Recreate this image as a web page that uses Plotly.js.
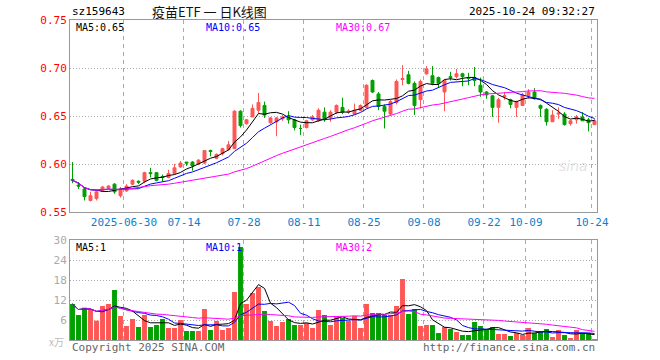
<!DOCTYPE html>
<html><head><meta charset="utf-8">
<script src="https://cdn.plot.ly/plotly-3.0.1.min.js"></script>
<style>html,body{margin:0;padding:0;background:#fff}#c{width:660px;height:360px}</style>
</head><body><div id="c"></div>
<script>
const dates = [
"2025-06-17","2025-06-18","2025-06-19","2025-06-20","2025-06-23","2025-06-24","2025-06-25","2025-06-26","2025-06-27","2025-06-30",
"2025-07-01","2025-07-02","2025-07-03","2025-07-04","2025-07-07","2025-07-08","2025-07-09","2025-07-10","2025-07-11",
"2025-07-14","2025-07-15","2025-07-16","2025-07-17","2025-07-18","2025-07-21","2025-07-22","2025-07-23","2025-07-24","2025-07-25",
"2025-07-28","2025-07-29","2025-07-30","2025-07-31","2025-08-01",
"2025-08-04","2025-08-05","2025-08-06","2025-08-07","2025-08-08","2025-08-11","2025-08-12","2025-08-13","2025-08-14","2025-08-15",
"2025-08-18","2025-08-19","2025-08-20","2025-08-21","2025-08-22","2025-08-25","2025-08-26","2025-08-27","2025-08-28","2025-08-29",
"2025-09-01","2025-09-02","2025-09-03","2025-09-04","2025-09-05","2025-09-08","2025-09-09","2025-09-10","2025-09-11","2025-09-12",
"2025-09-15","2025-09-16","2025-09-17","2025-09-18","2025-09-19","2025-09-22","2025-09-23","2025-09-24","2025-09-25","2025-09-26",
"2025-09-29","2025-09-30","2025-10-09","2025-10-10","2025-10-13","2025-10-14","2025-10-15","2025-10-16","2025-10-17",
"2025-10-20","2025-10-21","2025-10-22","2025-10-23","2025-10-24"];

const openP = [0.584,0.578,0.574,0.562,0.564,0.572,0.575,0.579,0.567,0.572,
0.579,0.582,0.582,0.591,0.591,0.587,0.586,0.590,0.597,0.602,
0.602,0.600,0.601,0.614,0.606,0.611,0.615,0.616,0.655,0.642,
0.649,0.656,0.661,0.643,0.644,0.647,0.649,0.646,0.637,0.638,
0.646,0.645,0.654,0.648,0.654,0.659,0.654,0.652,0.656,0.659,
0.687,0.673,0.660,0.652,0.664,0.688,0.693,0.684,0.667,0.694,
0.692,0.690,0.675,0.691,0.691,0.694,0.690,0.690,0.682,0.675,
0.671,0.659,0.670,0.667,0.659,0.661,0.671,0.675,0.661,0.657,
0.644,0.652,0.652,0.642,0.646,0.649,0.646,0.641];
const highP = [0.602,0.581,0.575,0.571,0.573,0.577,0.578,0.580,0.576,0.579,
0.584,0.583,0.592,0.596,0.591,0.589,0.594,0.600,0.603,0.602,
0.603,0.605,0.614,0.615,0.611,0.617,0.624,0.656,0.656,0.647,
0.662,0.674,0.665,0.649,0.649,0.651,0.655,0.647,0.641,0.646,
0.651,0.658,0.659,0.656,0.662,0.669,0.657,0.663,0.662,0.683,
0.688,0.675,0.662,0.667,0.688,0.703,0.697,0.686,0.688,0.702,
0.702,0.691,0.688,0.696,0.699,0.695,0.695,0.701,0.690,0.676,
0.672,0.669,0.675,0.668,0.666,0.674,0.678,0.679,0.662,0.658,
0.656,0.659,0.654,0.646,0.651,0.654,0.648,0.647];
const lowP = [0.580,0.574,0.562,0.561,0.562,0.571,0.574,0.569,0.565,0.571,
0.578,0.579,0.580,0.586,0.582,0.582,0.585,0.589,0.596,0.598,
0.593,0.599,0.600,0.608,0.605,0.609,0.614,0.616,0.638,0.641,
0.649,0.653,0.648,0.642,0.629,0.645,0.642,0.635,0.630,0.637,
0.645,0.644,0.644,0.644,0.652,0.652,0.652,0.651,0.655,0.658,
0.674,0.656,0.637,0.651,0.662,0.682,0.683,0.651,0.658,0.693,
0.682,0.679,0.655,0.687,0.689,0.681,0.682,0.681,0.670,0.668,
0.649,0.643,0.667,0.658,0.649,0.661,0.668,0.667,0.649,0.640,
0.644,0.647,0.640,0.640,0.642,0.645,0.634,0.641];
const closeP = [0.583,0.577,0.566,0.567,0.571,0.576,0.577,0.571,0.574,0.577,
0.583,0.581,0.591,0.590,0.583,0.586,0.590,0.596,0.601,0.601,
0.598,0.604,0.614,0.613,0.610,0.616,0.620,0.655,0.640,0.646,
0.658,0.664,0.651,0.648,0.648,0.649,0.646,0.638,0.637,0.645,
0.649,0.656,0.646,0.654,0.661,0.654,0.655,0.656,0.661,0.682,
0.675,0.660,0.655,0.665,0.686,0.689,0.684,0.661,0.686,0.699,
0.684,0.684,0.687,0.690,0.694,0.691,0.689,0.687,0.675,0.672,
0.659,0.667,0.671,0.662,0.665,0.672,0.675,0.668,0.658,0.644,
0.651,0.653,0.641,0.645,0.649,0.645,0.643,0.645];
// volume, unit: 万
const volume = [10.8,7.5,9.7,9.2,5.8,10.2,10.8,15.0,7.2,4.2,
6.3,3.9,7.5,3.9,4.5,6.3,3.6,3.6,6.0,2.7,
2.7,2.7,9.3,3.0,5.7,3.0,3.6,14.4,27.9,10.8,
14.1,15.9,8.7,5.7,4.2,5.4,6.3,4.5,4.5,5.1,
3.6,9.0,7.5,4.5,7.2,6.6,5.7,7.2,3.6,10.8,
8.1,8.1,7.5,7.5,10.2,18.3,7.8,9.3,4.2,4.5,
4.5,2.1,3.9,3.3,2.4,1.5,1.5,5.4,4.2,3.3,
3.9,1.8,1.8,1.2,2.1,1.5,3.6,2.1,2.7,3.3,
0.9,3.0,1.5,0.6,3.0,2.1,2.1,0.3];

const tickDates = ["2025-06-30","2025-07-14","2025-07-28","2025-08-11","2025-08-25","2025-09-08","2025-09-22","2025-10-09","2025-10-24"];
const tickLabels = ["2025-06-30","07-14","07-28","08-11","08-25","09-08","09-22","10-09","10-24"];
const priceTicks = [0.55,0.60,0.65,0.70,0.75];
const volTicks = [6,12,18,24,30];
const maLabelsPrice = ["MA5:0.65","MA10:0.65","MA30:0.67"];
const maLabelsVol = ["MA5:1","MA10:1","MA30:2"];

const RED = "#ff5555", GREEN = "#00a000";
const idx = dates.map((d,i)=>i);
function ma(a,n){return a.map((v,i)=>{const s=Math.max(0,i-n+1);let t=0;for(let k=s;k<=i;k++)t+=a[k];return t/(i-s+1);});}
const volColors = closeP.map((c,i)=> c>=openP[i]?RED:GREEN);
const tickPos = tickDates.map(d=>dates.indexOf(d)-0.42);

const mono = "DejaVu Sans Mono, Liberation Mono, monospace";
const maColors = ["#000000","#0000ff","#ff00ff"];
const traces = [
 {type:"candlestick",x:idx,open:openP,high:highP,low:lowP,close:closeP,xaxis:"x",yaxis:"y",
  increasing:{line:{color:RED,width:1},fillcolor:RED},decreasing:{line:{color:GREEN,width:1},fillcolor:GREEN},
  whiskerwidth:0,hoverinfo:"skip"}
];
[5,10,30].forEach((n,k)=>{
 traces.push({type:"scatter",mode:"lines",x:idx,y:ma(closeP,n),xaxis:"x",yaxis:"y",line:{color:maColors[k],width:1},hoverinfo:"skip"});
});
traces.push({type:"bar",x:idx,y:volume,xaxis:"x2",yaxis:"y2",marker:{color:volColors,line:{width:0}},width:0.82,hoverinfo:"skip"});
[5,10,30].forEach((n,k)=>{
 traces.push({type:"scatter",mode:"lines",x:idx,y:ma(volume,n),xaxis:"x2",yaxis:"y2",line:{color:maColors[k],width:1},hoverinfo:"skip"});
});

const W=660,H=360;
const px=x=>x/W, py=y=>1-y/H;
const xr=[-0.417,87.417];
const annotations = [
 {text:"sz159643",x:px(70),y:py(12),xanchor:"left",yanchor:"middle",font:{family:mono,size:11,color:"#000"}},
 {text:"疫苗ETF 一 日K线图",x:px(209),y:py(11),xanchor:"center",yanchor:"middle",font:{family:"Noto Sans CJK SC, sans-serif",size:13,color:"#111"}},
 {text:"2025-10-24 09:32:27",x:px(597),y:py(12),xanchor:"right",yanchor:"middle",font:{family:mono,size:11,color:"#000"}},
 {text:"Copyright 2025 SINA.COM",x:px(70),y:py(347),xanchor:"left",yanchor:"middle",font:{family:mono,size:11,color:"#666"}},
 {text:"http://finance.sina.com.cn",x:px(597),y:py(347),xanchor:"right",yanchor:"middle",font:{family:mono,size:11,color:"#666"}},
 {text:"x万",x:px(66),y:py(341),xanchor:"right",yanchor:"middle",font:{family:"Noto Sans CJK SC, sans-serif",size:10,color:"#bbb"}},
 {text:"<i>sina</i>",x:px(573),y:py(166),xanchor:"center",yanchor:"middle",font:{family:"DejaVu Sans, sans-serif",size:14,color:"#e4e4e4"}}
];
const labX=[74,204,334];
maLabelsPrice.forEach((t,k)=>annotations.push({text:t,x:px(labX[k]),y:py(28),xanchor:"left",yanchor:"middle",font:{family:mono,size:10,color:maColors[k]}}));
maLabelsVol.forEach((t,k)=>annotations.push({text:t,x:px(labX[k]),y:py(247),xanchor:"left",yanchor:"middle",font:{family:mono,size:10,color:maColors[k]}}));
annotations.forEach(a=>{a.xref="paper";a.yref="paper";a.showarrow=false;});

const layout = {
 width:W,height:H,margin:{l:0,r:0,t:0,b:0},paper_bgcolor:"#fff",plot_bgcolor:"#fff",showlegend:false,
 xaxis:{domain:[px(70),px(597)],range:xr,anchor:"y",tickmode:"array",tickvals:tickPos,ticktext:tickLabels,
   tickfont:{family:mono,size:11,color:"#0a7fd0"},ticks:"",showgrid:true,gridcolor:"#aaa",griddash:"4px,4px",gridwidth:1,
   showline:true,mirror:true,linecolor:"#999",linewidth:1,zeroline:false,rangeslider:{visible:false},fixedrange:true},
 yaxis:{domain:[py(212),py(20)],range:[0.55,0.75],anchor:"x",tickmode:"array",tickvals:priceTicks,ticktext:priceTicks.map(v=>v.toFixed(2)),
   tickfont:{family:mono,size:11,color:"#ff0000"},ticks:"",showgrid:true,gridcolor:"#aaa",griddash:"1px,2px",
   showline:true,mirror:true,linecolor:"#999",linewidth:1,zeroline:false},
 xaxis2:{domain:[px(70),px(597)],range:xr,anchor:"y2",tickmode:"array",tickvals:tickPos,showticklabels:false,ticks:"",
   showgrid:true,gridcolor:"#aaa",griddash:"4px,4px",showline:true,mirror:true,linecolor:"#999",linewidth:1,zeroline:false},
 yaxis2:{domain:[py(340),py(240)],range:[0,30],anchor:"x2",tickmode:"array",tickvals:volTicks,ticktext:volTicks.map(String),
   tickfont:{family:mono,size:11,color:"#aaa"},ticks:"",showgrid:true,gridcolor:"#aaa",griddash:"1px,2px",
   showline:true,mirror:true,linecolor:"#999",linewidth:1,zeroline:false},
 annotations:annotations,
 bargap:0.15
};
Plotly.newPlot("c",traces,layout,{staticPlot:true,displayModeBar:false});
</script></body></html>
